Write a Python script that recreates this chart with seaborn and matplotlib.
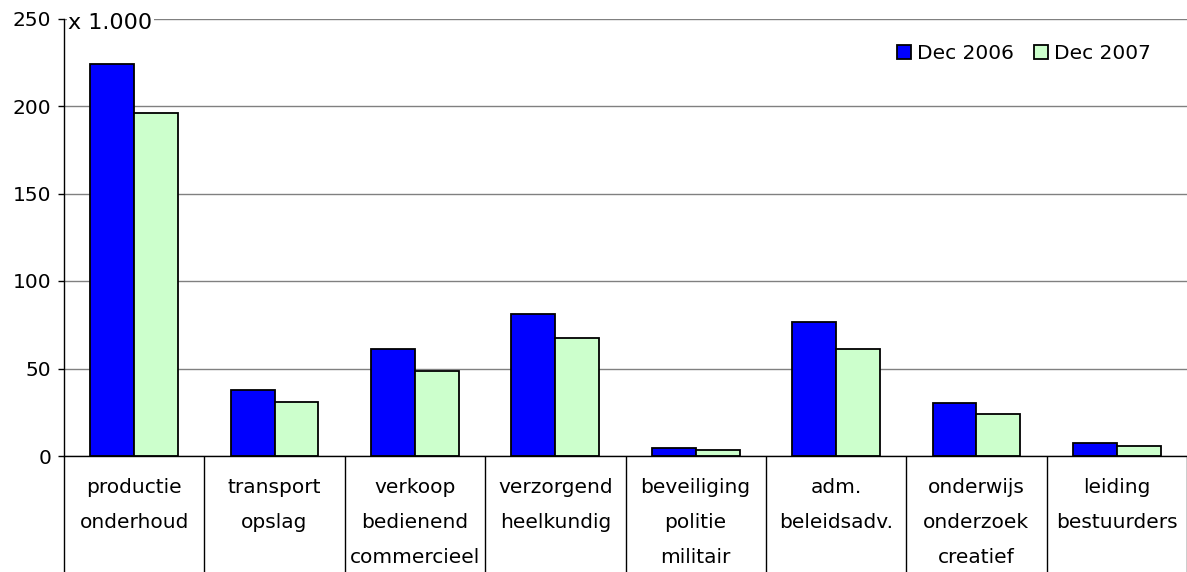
import matplotlib
matplotlib.use("Agg")
import matplotlib.pyplot as plt
import seaborn as sns
import pandas as pd
import numpy as np
from matplotlib.ticker import FixedLocator, NullFormatter

# Beroepsgroepen (x 1.000)
categories = [
    "productie\nonderhoud",
    "transport\nopslag",
    "verkoop\nbedienend\ncommercieel",
    "verzorgend\nheelkundig",
    "beveiliging\npolitie\nmilitair",
    "adm.\nbeleidsadv.",
    "onderwijs\nonderzoek\ncreatief",
    "leiding\nbestuurders",
]
dec_2006 = [224, 38, 61, 81, 4.8, 76.5, 30.5, 7.6]
dec_2007 = [196, 30.7, 48.3, 67.3, 3.4, 61, 24.2, 5.9]
series_names = ["Dec 2006", "Dec 2007"]
y_ticks = [0, 50, 100, 150, 200, 250]

df = pd.DataFrame({
    "categorie": categories * 2,
    "waarde": dec_2006 + dec_2007,
    "periode": [series_names[0]] * len(categories) + [series_names[1]] * len(categories),
})

sns.set_style("white")
plt.rcParams["font.family"] = ["DejaVu Sans"]
plt.rcParams["text.color"] = "black"
plt.rcParams["xtick.color"] = "black"
plt.rcParams["ytick.color"] = "black"

fig = plt.figure(figsize=(11.87, 5.72), dpi=100)
ax = fig.add_axes([64 / 1187, 116 / 572, 1 - 64 / 1187, (456 - 18.5) / 572])

sns.barplot(
    data=df, x="categorie", y="waarde", hue="periode",
    palette=["#0000FF", "#CCFFCC"], width=0.625,
    edgecolor="black", linewidth=1.3, saturation=1, ax=ax, legend=True,
)

ax.set_ylim(0, 250)
ax.set_xlim(-0.5, len(categories) - 0.5)
ax.set_yticks(y_ticks)
ax.yaxis.grid(True, color="#808080", linewidth=1)
ax.set_axisbelow(True)
ax.set_xlabel("")
ax.set_ylabel("")

for side in ["top", "right"]:
    ax.spines[side].set_visible(False)
for side in ["left", "bottom"]:
    ax.spines[side].set_color("black")
    ax.spines[side].set_linewidth(1)

fs = 14.5
ax.tick_params(axis="y", which="major", length=4, width=1, color="black",
               labelsize=fs, pad=5, left=True, labelcolor="black")

# category separators as long minor ticks under the axis
ax.xaxis.set_minor_locator(FixedLocator(np.arange(-0.5, len(categories), 1.0)))
ax.xaxis.set_minor_formatter(NullFormatter())
ax.tick_params(axis="x", which="minor", length=84, width=1, color="black",
               direction="out", bottom=True)
ax.tick_params(axis="x", which="major", length=0, labelsize=fs, pad=15.5,
               labelcolor="black")
for lab in ax.get_xticklabels():
    lab.set_linespacing(2.09)
    lab.set_verticalalignment("top")

ax.text(0.004, 0.99, "x 1.000", transform=ax.transAxes, fontsize=16,
        ha="left", va="center", color="black",
        bbox=dict(facecolor="white", edgecolor="none", pad=1))

leg = ax.legend(loc="center right", bbox_to_anchor=(0.975, 0.92), frameon=False,
                ncol=2, fontsize=fs, handlelength=0.7, handleheight=0.7,
                handletextpad=0.3, columnspacing=1.0, borderaxespad=0)
for h in leg.legend_handles:
    h.set_edgecolor("black")
    h.set_linewidth(1.3)
for t in leg.get_texts():
    t.set_color("black")

fig.savefig("out.png", dpi=100, facecolor="white")
